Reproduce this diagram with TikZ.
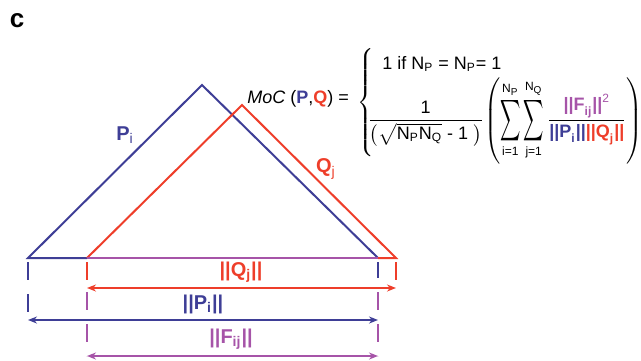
\documentclass[tikz,border=0pt]{standalone}
\usepackage{amsmath}
\usepackage{graphicx}
\usepackage{fontspec}
\setmainfont{Liberation Sans}
\usepackage{xcolor}
\usetikzlibrary{arrows.meta,calc}
\definecolor{pblue}{RGB}{62,62,150}
\definecolor{qred}{RGB}{238,62,42}
\definecolor{fpurple}{RGB}{166,84,168}
\newcommand{\somatorio}{\mathop{\vcenter{\hbox{\scalebox{0.76}[1.6]{$\displaystyle\sum$}}}}\limits}
\newcommand{\sub}[1]{_{\text{#1}}}
\newcommand{\norma}[2]{\text{\bfseries ||#1}_{\text{\bfseries #2}}\text{\bfseries ||}}
\tikzset{
  perfil/.style={line width=1pt},
  guia/.style={line width=1pt, dash pattern=on 9pt off 7pt, dash phase=-2pt},
  cota/.style={{Stealth[length=4.5pt,width=3.5pt]}-{Stealth[length=4.5pt,width=3.5pt]}, line width=1pt},
  rotulo/.style={font=\fontsize{10}{12}\selectfont, inner sep=0pt},
  formula/.style={anchor=base west, inner sep=0pt, font=\fontsize{9}{11}\selectfont},
}

\begin{document}
\begin{tikzpicture}[x=0.5pt,y=-0.5pt]
    \useasboundingbox (0,0) rectangle (641,360);

    %% ---------- panel letter ----------
    \node[font=\bfseries\fontsize{13}{15}\selectfont] (painel) at (17,21) {c};

    %% ---------- corners of the two profiles ----------
    \coordinate (Pa) at (28,258);
    \coordinate (Pb) at (202,85);
    \coordinate (Pc) at (378,258);
    \coordinate (Qa) at (87,258);
    \coordinate (Qb) at (242,105);
    \coordinate (Qc) at (396,258);

    %% ends of the dimension lines
    \coordinate (Qini) at (87,288);  \coordinate (Qfim) at (396,288);
    \coordinate (Pini) at (28,320);  \coordinate (Pfim) at (378,320);
    \coordinate (Fini) at (87,356);  \coordinate (Ffim) at (378,356);
    \coordinate (Pcorte) at (378,278);

    %% ---------- profiles ----------
    \draw[perfil, pblue] (Qa) -- (Pa) -- (Pb) -- (Pc);
    \draw[perfil, qred] (Pc) -- (Qc) -- (Qb) -- (Qa);
    \draw[perfil, fpurple] (Qa) -- (Pc);

    \node[rotulo, pblue] (rotP) at (125,135) {\textbf{P}$_{\mathrm{i}}$};
    \node[rotulo, qred]  (rotQ) at (326,169) {\textbf{Q}$_{\mathrm{j}}$};

    %% ---------- extension lines ----------
    \draw[guia, pblue] (Pa) -- (Pini);
    \draw[guia, pblue] (Pc) -- (Pcorte);
    \draw[guia, qred] (Qa) -- (Qini);
    \draw[guia, qred] (Qc) -- (Qfim);
    \draw[guia, fpurple] (Qini) -- (Fini);
    \draw[guia, fpurple] (Pc |- Qini) -- (Ffim);

    %% ---------- dimensions ----------
    \draw[cota, qred] (Qini) -- (Qfim);
    \draw[cota, pblue] (Pini) -- (Pfim);
    \draw[cota, fpurple] (Fini) -- (Ffim);
    \node[rotulo, qred]    (normQ) at (241,272) {\textbf{||Q}$_{\mathbf{j}}$\textbf{||}};
    \node[rotulo, pblue]   (normP) at (203,304) {\textbf{||P}$_{\mathbf{i}}$\textbf{||}};
    \node[rotulo, fpurple] (normF) at (231,339) {\textbf{||F}$_{\mathbf{ij}}$\textbf{||}};

    %% ---------- formula ----------
    \node[formula] (moc) at (247,103)
      {$\mathit{MoC}\text{ (}\textcolor{pblue}{\mathbf{P}}\text{,}\textcolor{qred}{\mathbf{Q}}\text{) =}$};
    \node[formula] (chave) at (357,107)
      {$\left\{\vrule width 0pt height 30.5pt depth 26pt\right.$};
    \node[formula] (caso1) at (382,69)
      {\text{1 if N}$\sub{P}$\text{ = N}$\sub{P}$\text{= 1}};
    \node[formula] (caso2) at (367,125)
      {$\dfrac{\text{1}}{\left(\sqrt{\text{N}\sub{P}\text{N}\sub{Q}}\text{ - 1 }\right)}\!
        \left(\vrule width 0pt height 24.25pt depth 19.75pt
        \somatorio_{\text{i=1}}^{\text{N}\sub{P}}\somatorio_{\text{j=1}}^{\text{N}\sub{Q}}
        \dfrac{\textcolor{fpurple}{\norma{F}{ij}^{\text{2}}}}
              {\textcolor{pblue}{\norma{P}{i}}\textcolor{qred}{\norma{Q}{j}}}\right)$};

\end{tikzpicture}
\end{document}
